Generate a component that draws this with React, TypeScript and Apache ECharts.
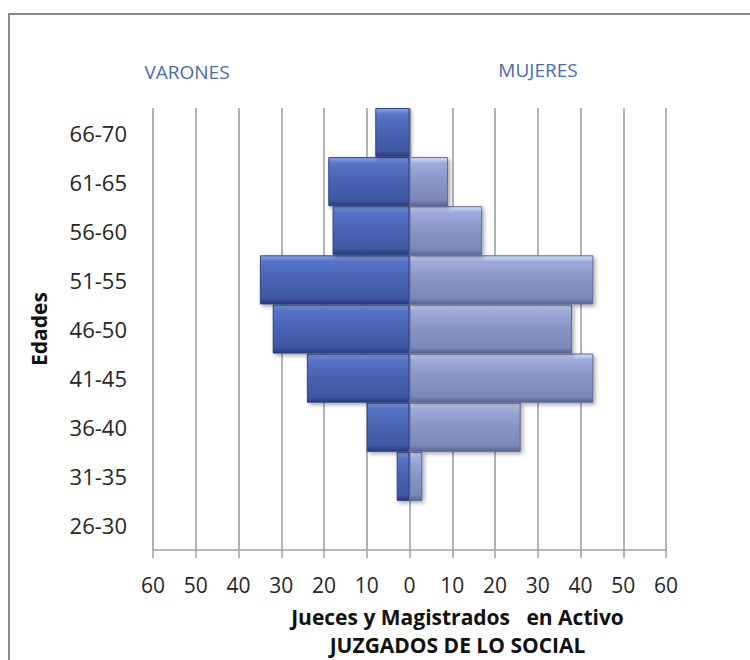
import React, { useEffect, useRef } from "react";
import * as echarts from "echarts";

const categories = ["26-30", "31-35", "36-40", "41-45", "46-50", "51-55", "56-60", "61-65", "66-70"];
const varones = [0, 3, 10, 24, 32, 35, 18, 19, 8];
const mujeres = [0, 3, 26, 43, 38, 43, 17, 9, 0];
const xTicks = { min: -60, max: 60, interval: 10 };

const FONT = "'Open Sans', 'Noto Sans', sans-serif";

export default function App() {
  const ref = useRef<HTMLDivElement>(null);
  useEffect(() => {
    if (!ref.current) return;
    const chart = echarts.init(ref.current, null, { renderer: "svg" });
    const grad = (c0: string, c1: string, c2: string, c3: string, c4: string) =>
      new echarts.graphic.LinearGradient(0, 0, 0, 1, [
        { offset: 0, color: c0 },
        { offset: 0.12, color: c1 },
        { offset: 0.5, color: c2 },
        { offset: 0.88, color: c3 },
        { offset: 1, color: c4 },
      ]);
    chart.setOption({
      animation: false,
      backgroundColor: "#ffffff",
      textStyle: { fontFamily: FONT },
      grid: { left: 153, right: 84, top: 108, bottom: 110, containLabel: false, outerBoundsMode: "none" },
      graphic: [
        {
          type: "rect",
          shape: { x: 9, y: 14, width: 760, height: 680 },
          style: { fill: "none", stroke: "#8a8a8a", lineWidth: 2 },
          silent: true,
        },
        {
          type: "text",
          x: 187,
          y: 72,
          style: { text: "VARONES", fill: "#4a6cb0", font: `19px ${FONT}`, textAlign: "center", textVerticalAlign: "middle" },
        },
        {
          type: "text",
          x: 538,
          y: 70,
          style: { text: "MUJERES", fill: "#4a6cb0", font: `19px ${FONT}`, textAlign: "center", textVerticalAlign: "middle" },
        },
      ],
      xAxis: {
        type: "value",
        min: xTicks.min,
        max: xTicks.max,
        interval: xTicks.interval,
        axisLabel: {
          formatter: (v: number) => String(Math.abs(v)),
          fontSize: 21,
          color: "#262626",
          margin: 24,
          fontFamily: FONT,
        },
        axisLine: { show: true, lineStyle: { color: "#a0a0a0", width: 1.5 } },
        axisTick: { show: true, length: 8, lineStyle: { color: "#a0a0a0", width: 1.5 } },
        splitLine: { show: true, lineStyle: { color: "#9a9a9a", width: 1.5 } },
        name: "Jueces y Magistrados   en Activo\nJUZGADOS DE LO SOCIAL",
        nameLocation: "middle",
        nameGap: 53,
        nameTextStyle: {
          fontSize: 21,
          fontWeight: "bold",
          color: "#111111",
          lineHeight: 28,
          padding: [0, 0, 0, 96],
          fontFamily: FONT,
        },
      },
      yAxis: {
        type: "category",
        data: categories,
        axisLine: { show: false, onZero: false },
        axisTick: { show: false },
        axisLabel: { fontSize: 22, color: "#262626", margin: 26, fontFamily: FONT },
        name: "Edades",
        nameLocation: "middle",
        nameRotate: 90,
        nameGap: 104,
        nameTextStyle: { fontSize: 21, fontWeight: "bold", color: "#111111", fontFamily: FONT },
      },
      series: [
        {
          name: "VARONES",
          type: "bar",
          stack: "total",
          data: varones.map((v) => -v),
          barCategoryGap: "0%",
          itemStyle: {
            color: grad("#8aa4ee", "#5674c8", "#4862b0", "#3f58a2", "#28397a"),
            borderColor: "#2f4583",
            borderWidth: 1,
            shadowBlur: 4,
            shadowColor: "rgba(0,0,0,0.35)",
            shadowOffsetX: 2,
            shadowOffsetY: 2,
          },
        },
        {
          name: "MUJERES",
          type: "bar",
          stack: "total",
          data: mujeres,
          barCategoryGap: "0%",
          itemStyle: {
            color: grad("#d8e0fb", "#9eabdc", "#8893c6", "#7d88ba", "#596391"),
            borderColor: "#5f6a98",
            borderWidth: 1,
            shadowBlur: 4,
            shadowColor: "rgba(0,0,0,0.35)",
            shadowOffsetX: 2,
            shadowOffsetY: 2,
          },
        },
      ],
    });
    return () => chart.dispose();
  }, []);
  return <div ref={ref} style={{ width: 750, height: 660, position: "absolute", left: 0, top: 0 }} />;
}
